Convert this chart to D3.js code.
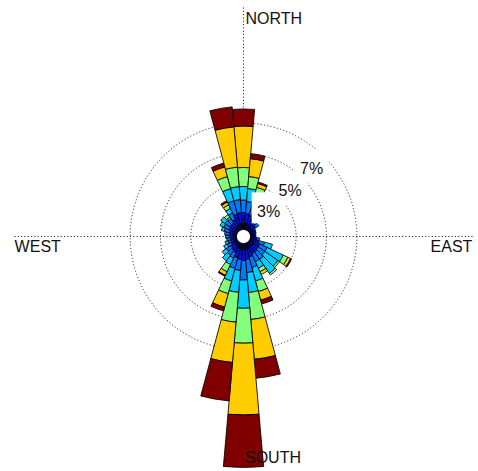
<!DOCTYPE html>
<html><head><meta charset="utf-8">
<script src="https://cdn.jsdelivr.net/npm/d3@7/dist/d3.min.js"></script>
<style>html,body{margin:0;padding:0;background:#fff;} svg{display:block;}</style>
</head><body>
<svg id="chart" width="478" height="471"></svg>
<script>
// compass directions (degrees, clockwise from north), 10° sectors
const directions = d3.range(0, 360, 10);
// frequency (%) per speed class, lowest class first
const speed1 = [0.40,0.40,0.33,0.26,0.26,0.26,0.23,0.20,0.20,0.20,0.20,0.26,0.33,0.33,0.33,0.33,0.40,0.40,0.40,0.40,0.40,0.33,0.26,0.26,0.20,0.20,0.20,0.20,0.20,0.26,0.26,0.26,0.26,0.33,0.40,0.40];
const speed2 = [0.72,0.66,0.66,0.46,0.33,0.26,0.20,0.20,0.16,0.16,0.20,0.33,0.39,0.39,0.46,0.46,0.53,0.66,0.72,0.66,0.59,0.39,0.39,0.33,0.26,0.20,0.20,0.26,0.26,0.26,0.33,0.39,0.39,0.46,0.66,0.72];
const speed3 = [0.82,0.79,0.72,0.59,0.39,0.26,0,0,0,0,0.20,0.39,0.53,0.53,0.59,0.59,0.72,0.86,1.28,0.72,0.72,0.39,0.39,0.33,0.26,0.20,0.26,0.26,0.33,0.33,0.39,0.39,0.33,0.46,0.92,0.86];
const speed4 = [0.89,0.86,0.72,0.53,0,0,0,0,0,0,0,0.53,1.18,1.05,1.12,0.46,0.92,1.32,1.86,1.45,0.86,0.46,0.46,0.33,0.26,0.20,0,0,0,0.20,0.26,0.33,0.13,0.33,0.82,0.86];
const speed5 = [1.25,0.79,0.46,0.33,0,0,0,0,0,0,0,0,0.33,0.13,0.13,0.26,0.72,1.78,2.30,1.97,0.86,0.53,0,0,0,0,0,0,0,0,0,0,0.20,0.26,0.82,1.28];
const speed6 = [2.73,1.18,0.26,0.13,0,0,0,0,0,0,0,0,0.20,0,0,0.20,0.59,2.63,4.72,2.66,0.92,0.26,0,0,0,0,0,0,0,0,0,0,0,0.20,0.66,2.66];
const speed7 = [1.12,0.33,0.10,0,0,0,0,0,0,0,0,0,0.07,0,0,0,0.26,1.25,3.45,2.54,0.26,0.07,0,0,0,0,0,0,0,0,0,0,0,0.10,0.26,1.32];
const speedClasses = [speed1, speed2, speed3, speed4, speed5, speed6, speed7];
const classColors = ["#00007c","#0010e6","#0078ff","#00ccff","#84ff7c","#ffcc00","#800000"];
const circleLevels = [3, 5, 7];
const compassNames = ["NORTH", "EAST", "SOUTH", "WEST"];

const svg = d3.select("#chart");
const cx = 243.5, cy = 236.5;
const r = d3.scaleLinear().domain([0, 7]).range([7, 113.4]);
const g = svg.append("g").attr("transform", `translate(${cx},${cy})`);

// cumulative segments
const segs = [];
let maxTotal = 0;
directions.forEach((dir, i) => {
  let acc = 0;
  speedClasses.forEach((arr, c) => {
    const v = arr[i];
    if (v > 0) segs.push({dir, lo: acc, hi: acc + v, c});
    acc += v;
  });
  maxTotal = Math.max(maxTotal, acc);
});
const rMax = r(maxTotal);

const dotted = sel => sel.attr("fill", "none").attr("stroke", "#222").attr("stroke-width", 1).attr("stroke-dasharray", "1.1 2.2");

// grid circles
g.selectAll("circle.grid").data(circleLevels).join("circle")
  .attr("class", "grid").attr("r", d => r(d)).call(dotted);

// axes
const axisStart = 20;
[[0,-1],[1,0],[0,1],[-1,0]].forEach(([dx, dy]) => {
  g.append("line")
    .attr("x1", dx * axisStart).attr("y1", dy * axisStart)
    .attr("x2", dx * rMax).attr("y2", dy * rMax).call(dotted);
});

// petals
const rad = Math.PI / 180;
const arc = d3.arc()
  .innerRadius(d => r(d.lo)).outerRadius(d => r(d.hi))
  .startAngle(d => (d.dir - 5) * rad).endAngle(d => (d.dir + 5) * rad);
g.selectAll("path.seg").data(segs).join("path")
  .attr("class", "seg").attr("d", arc)
  .attr("fill", d => classColors[d.c])
  .attr("stroke", "#000").attr("stroke-width", 0.85).attr("stroke-linejoin", "round");

// percentage labels with white background
const font = "'Liberation Sans', Arial, sans-serif";
const labG = g.selectAll("g.lab").data(circleLevels).join("g").attr("class", "lab")
  .attr("transform", d => {
    const p = (r(d) - 17) * Math.SQRT1_2;
    return `translate(${p},${-p})`;
  });
labG.append("rect").attr("x", -17).attr("y", -19).attr("width", 34).attr("height", 31).attr("fill", "#fff");
labG.append("text").attr("text-anchor", "middle").attr("y", 6)
  .attr("font-family", font).attr("font-size", 16).attr("fill", "#111")
  .text(d => d + "%");

// compass labels
const lab = (t, x, y, anchor) => g.append("text").attr("x", x).attr("y", y).attr("text-anchor", anchor)
  .attr("font-family", font).attr("font-size", 16).attr("fill", "#111").text(t);
lab(compassNames[0], 2, -rMax + 18, "start");
lab(compassNames[1], rMax - 2, 15.5, "end");
lab(compassNames[2], 1.5, rMax - 4, "start");
lab(compassNames[3], -rMax + 2, 15.5, "start");
</script>
</body></html>
